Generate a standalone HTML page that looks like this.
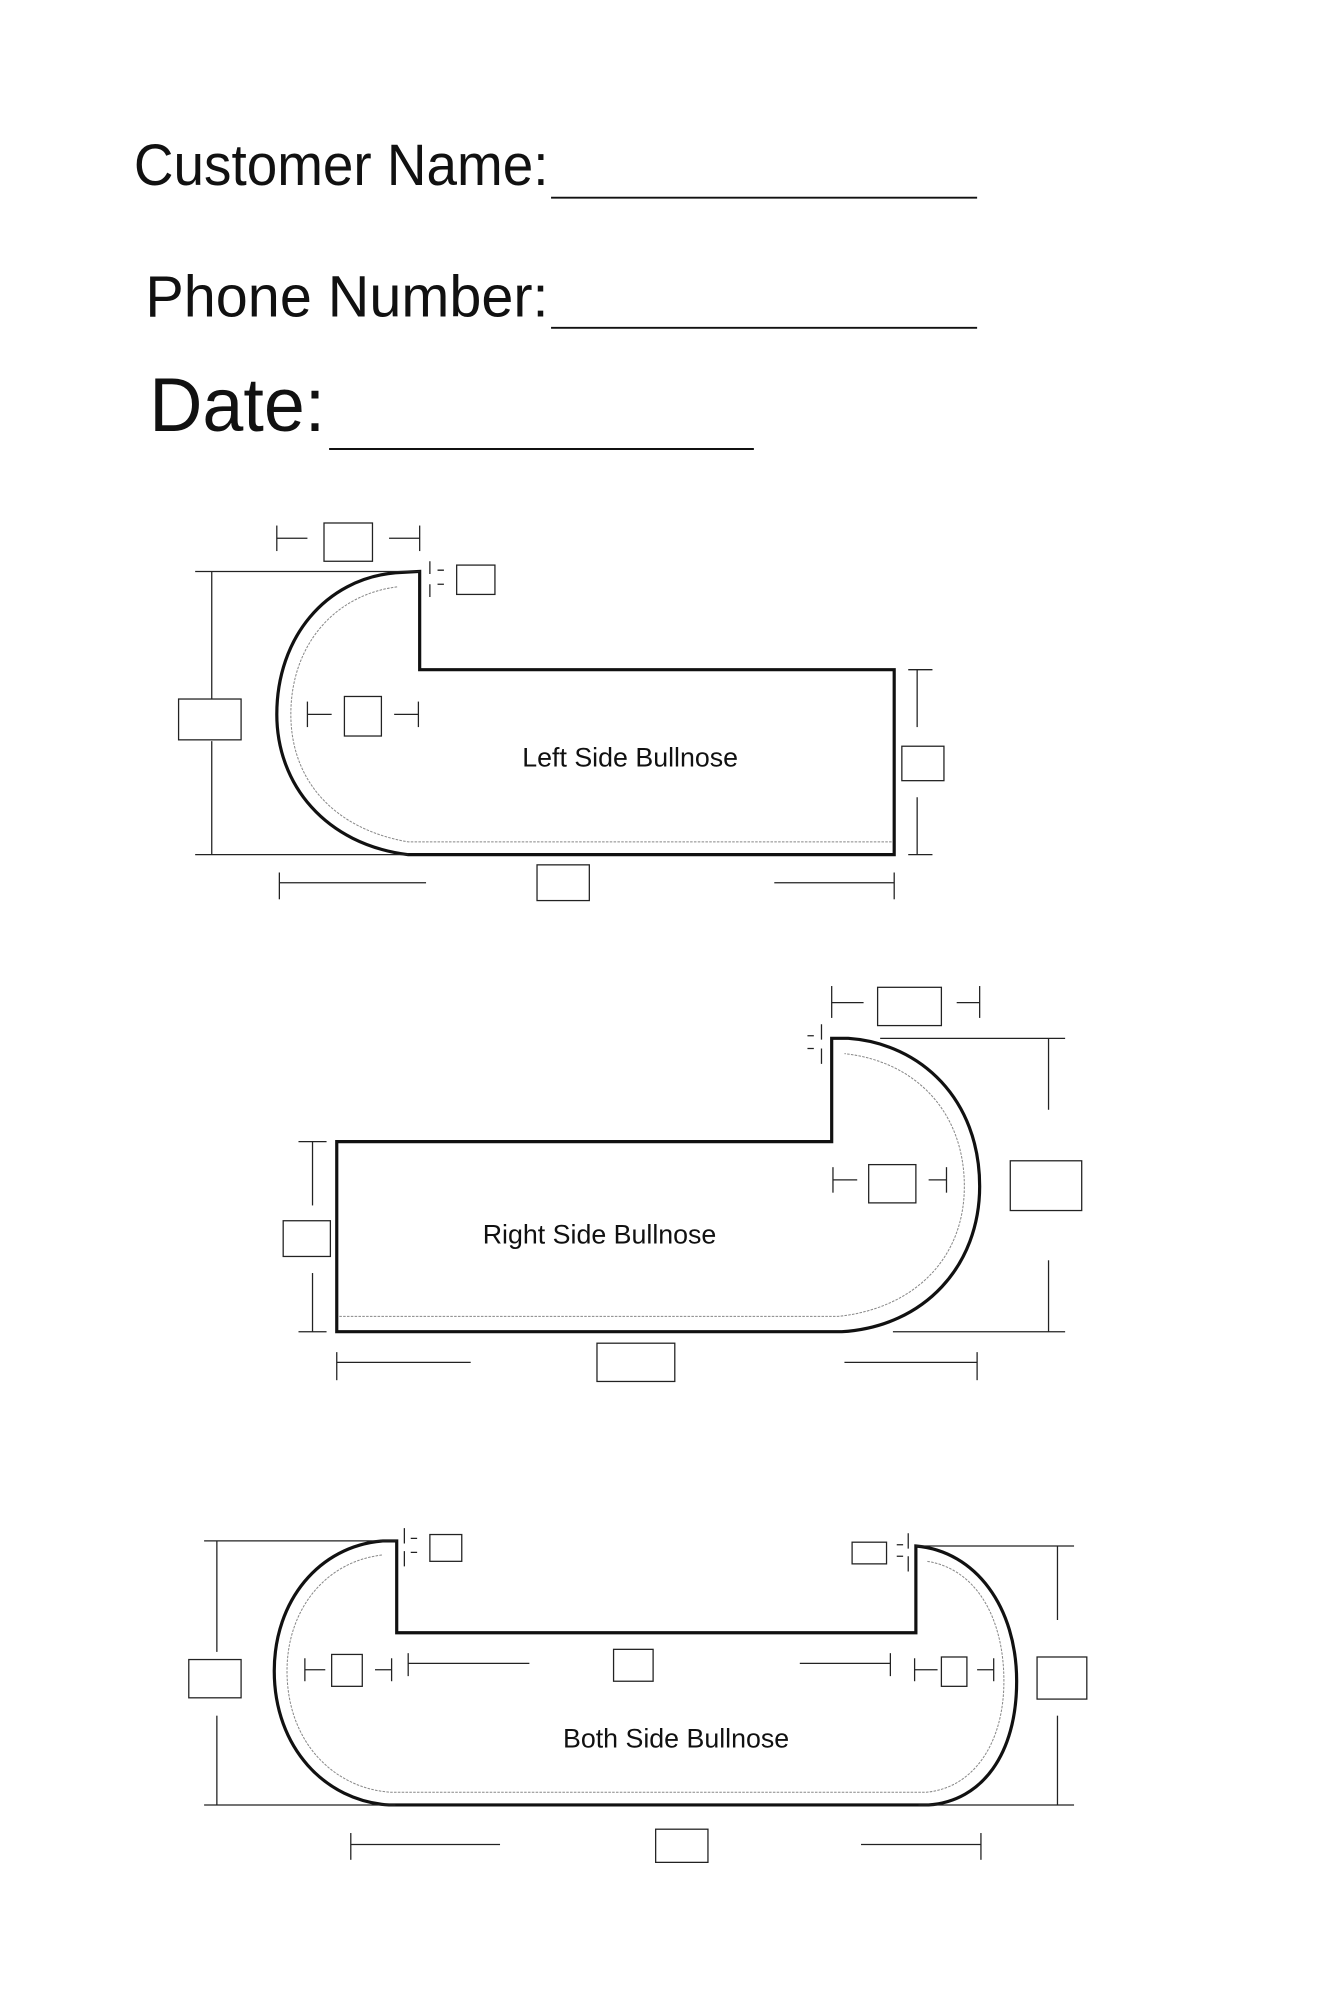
<!DOCTYPE html>
<html><head><meta charset="utf-8"><style>html,body{margin:0;padding:0;background:#fff}svg{display:block}</style></head>
<body>
<svg width="1333" height="2000" viewBox="0 0 1045 1567.9" preserveAspectRatio="none" xmlns="http://www.w3.org/2000/svg" font-family="Liberation Sans, sans-serif">
<rect width="1050" height="1576" fill="#fff"/>
<g fill="#111">
<text x="105" y="145" font-size="46" textLength="325" lengthAdjust="spacingAndGlyphs">Customer Name:</text>
<text x="114" y="248" font-size="46" textLength="316" lengthAdjust="spacingAndGlyphs">Phone Number:</text>
<text x="117" y="338" font-size="60" textLength="138" lengthAdjust="spacingAndGlyphs">Date:</text>
</g>
<g stroke="#111" stroke-width="1.5">
<line x1="432" y1="155" x2="766" y2="155"/>
<line x1="432" y1="257" x2="766" y2="257"/>
<line x1="258" y1="352" x2="591" y2="352"/>
</g>

<!-- Diagram 1 -->
<path d="M329,448 L329,525 L701,525 L701,670 L320,670 C255,662 217,615 217,560 C217,500 255,454 310,449 Z" fill="none" stroke="#111" stroke-width="2.5"/>
<path d="M699,660 L320,660 C262,650 228,612 228,560 C228,506 262,466 312,460" fill="none" stroke="#888" stroke-width="0.8" stroke-dasharray="2,1"/>
<g stroke="#222" stroke-width="1" fill="none">
<line x1="217" y1="412" x2="217" y2="432"/><line x1="217" y1="422" x2="241" y2="422"/>
<rect x="254" y="410" width="38" height="30"/>
<line x1="305" y1="422" x2="329" y2="422"/><line x1="329" y1="412" x2="329" y2="432"/>
<path d="M337,440 L337,450 M337,458 L337,468 M343,447 L348,447 M343,458 L348,458"/>
<rect x="358" y="443" width="30" height="23"/>
<line x1="153" y1="448" x2="329" y2="448"/><line x1="153" y1="670" x2="320" y2="670"/>
<line x1="166" y1="448" x2="166" y2="548"/><line x1="166" y1="581" x2="166" y2="670"/>
<rect x="140" y="548" width="49" height="32"/>
<line x1="241" y1="550" x2="241" y2="570"/><line x1="241" y1="560" x2="260" y2="560"/>
<rect x="270" y="546" width="29" height="31"/>
<line x1="309" y1="560" x2="328" y2="560"/><line x1="328" y1="550" x2="328" y2="570"/>
<line x1="712" y1="525" x2="731" y2="525"/><line x1="719" y1="525" x2="719" y2="570"/>
<rect x="707" y="585" width="33" height="27"/>
<line x1="719" y1="625" x2="719" y2="670"/><line x1="712" y1="670" x2="731" y2="670"/>
<line x1="219" y1="684" x2="219" y2="705"/><line x1="219" y1="692" x2="334" y2="692"/>
<rect x="421" y="678" width="41" height="28"/>
<line x1="607" y1="692" x2="701" y2="692"/><line x1="701" y1="684" x2="701" y2="705"/>
</g>
<text x="494" y="601" font-size="21" text-anchor="middle" fill="#111">Left Side Bullnose</text>

<!-- Diagram 2 -->
<path d="M264,895 L652,895 L652,814 L665,814 C722,818 768,862 768,930 C768,992 725,1040 660,1044 L264,1044 Z" fill="none" stroke="#111" stroke-width="2.5"/>
<path d="M266,1032 L657,1032 C715,1026 756,988 756,930 C756,872 718,832 662,826" fill="none" stroke="#888" stroke-width="0.8" stroke-dasharray="2,1"/>
<g stroke="#222" stroke-width="1" fill="none">
<line x1="652" y1="773" x2="652" y2="798"/><line x1="652" y1="786" x2="677" y2="786"/>
<rect x="688" y="774" width="50" height="30"/>
<line x1="750" y1="786" x2="768" y2="786"/><line x1="768" y1="773" x2="768" y2="798"/>
<path d="M644,803 L644,815 M644,822 L644,834 M633,812 L638,812 M633,822 L638,822"/>
<line x1="690" y1="814" x2="835" y2="814"/><line x1="700" y1="1044" x2="835" y2="1044"/>
<line x1="822" y1="814" x2="822" y2="870"/>
<rect x="792" y="910" width="56" height="39"/>
<line x1="822" y1="988" x2="822" y2="1044"/>
<line x1="653" y1="915" x2="653" y2="935"/><line x1="653" y1="925" x2="672" y2="925"/>
<rect x="681" y="913" width="37" height="30"/>
<line x1="728" y1="925" x2="742" y2="925"/><line x1="742" y1="915" x2="742" y2="935"/>
<line x1="234" y1="895" x2="256" y2="895"/><line x1="245" y1="895" x2="245" y2="945"/>
<rect x="222" y="957" width="37" height="28"/>
<line x1="245" y1="998" x2="245" y2="1044"/><line x1="234" y1="1044" x2="256" y2="1044"/>
<line x1="264" y1="1060" x2="264" y2="1082"/><line x1="264" y1="1068" x2="369" y2="1068"/>
<rect x="468" y="1053" width="61" height="30"/>
<line x1="662" y1="1068" x2="766" y2="1068"/><line x1="766" y1="1060" x2="766" y2="1082"/>
</g>
<text x="470" y="975" font-size="21" text-anchor="middle" fill="#111">Right Side Bullnose</text>

<!-- Diagram 3 -->
<path d="M311,1208 L311,1280 L718,1280 L718,1212 C765,1216 797,1260 797,1318 C797,1375 770,1412 728,1415 L305,1415 C255,1412 215,1370 215,1310 C215,1255 250,1212 300,1208 Z" fill="none" stroke="#111" stroke-width="2.5"/>
<path d="M727,1224 C765,1230 787,1268 787,1318 C787,1368 762,1402 726,1405 L306,1405 C262,1402 225,1366 225,1310 C225,1262 255,1224 300,1219" fill="none" stroke="#888" stroke-width="0.8" stroke-dasharray="2,1"/>
<g stroke="#222" stroke-width="1" fill="none">
<line x1="160" y1="1208" x2="311" y2="1208"/><line x1="160" y1="1415" x2="310" y2="1415"/>
<line x1="170" y1="1208" x2="170" y2="1295"/>
<rect x="148" y="1301" width="41" height="30"/>
<line x1="170" y1="1345" x2="170" y2="1415"/>
<line x1="718" y1="1212" x2="842" y2="1212"/><line x1="720" y1="1415" x2="842" y2="1415"/>
<line x1="829" y1="1212" x2="829" y2="1270"/>
<rect x="813" y="1299" width="39" height="33"/>
<line x1="829" y1="1345" x2="829" y2="1415"/>
<path d="M317,1198 L317,1210 M317,1216 L317,1228 M322,1206 L327,1206 M322,1217 L327,1217"/>
<rect x="337" y="1203" width="25" height="21"/>
<rect x="668" y="1209" width="27" height="17"/>
<path d="M712,1202 L712,1214 M712,1220 L712,1232 M703,1211 L708,1211 M703,1220 L708,1220"/>
<line x1="239" y1="1300" x2="239" y2="1318"/><line x1="239" y1="1309" x2="255" y2="1309"/>
<rect x="260" y="1297" width="24" height="25"/>
<line x1="294" y1="1309" x2="307" y2="1309"/><line x1="307" y1="1300" x2="307" y2="1318"/>
<line x1="320" y1="1296" x2="320" y2="1314"/><line x1="320" y1="1304" x2="415" y2="1304"/>
<rect x="481" y="1293" width="31" height="25"/>
<line x1="627" y1="1304" x2="698" y2="1304"/><line x1="698" y1="1296" x2="698" y2="1314"/>
<line x1="717" y1="1300" x2="717" y2="1318"/><line x1="717" y1="1309" x2="735" y2="1309"/>
<rect x="738" y="1299" width="20" height="23"/>
<line x1="766" y1="1309" x2="779" y2="1309"/><line x1="779" y1="1300" x2="779" y2="1318"/>
<line x1="275" y1="1437" x2="275" y2="1458"/><line x1="275" y1="1446" x2="392" y2="1446"/>
<rect x="514" y="1434" width="41" height="26"/>
<line x1="675" y1="1446" x2="769" y2="1446"/><line x1="769" y1="1437" x2="769" y2="1458"/>
</g>
<text x="530" y="1370" font-size="21" text-anchor="middle" fill="#111">Both Side Bullnose</text>
</svg>
</body></html>
